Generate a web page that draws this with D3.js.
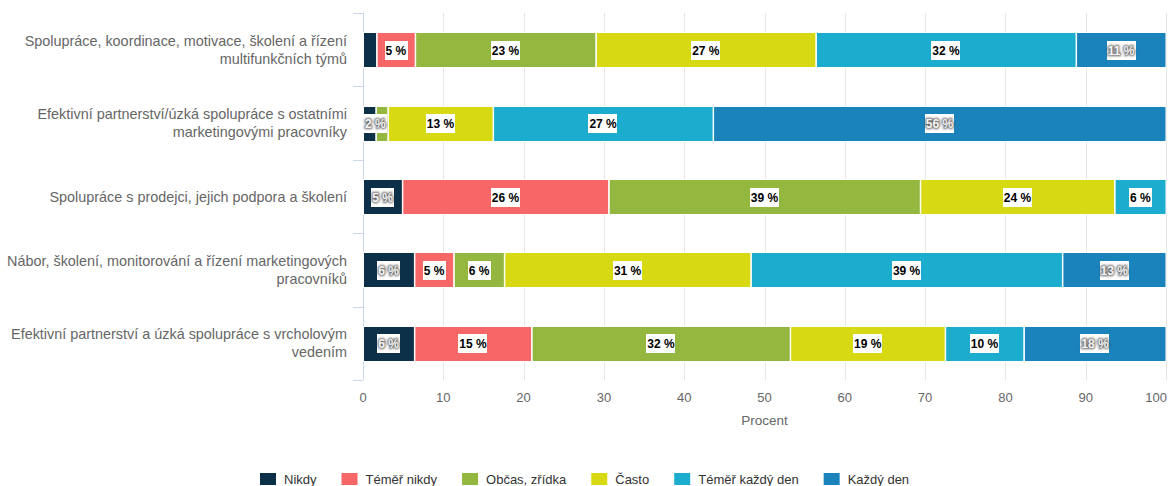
<!DOCTYPE html>
<html>
<head>
<meta charset="utf-8">
<script src="https://cdn.jsdelivr.net/npm/d3@7"></script>
<style>
  html, body { margin: 0; padding: 0; background: #fff; }
  svg { display: block; font-family: "Liberation Sans", Arial, sans-serif; }
</style>
</head>
<body>
<svg id="chart" width="1168" height="486"></svg>
<script>
const categories = [
  "Spolupráce, koordinace, motivace, školení a řízení\nmultifunkčních týmů",
  "Efektivní partnerství/úzká spolupráce s ostatními\nmarketingovými pracovníky",
  "Spolupráce s prodejci, jejich podpora a školení",
  "Nábor, školení, monitorování a řízení marketingových\npracovníků",
  "Efektivní partnerství a úzká spolupráce s vrcholovým\nvedením"
];
const seriesNames = ["Nikdy", "Téměř nikdy", "Občas, zřídka", "Často", "Téměř každý den", "Každý den"];
const seriesColors = ["#0d3049", "#f86767", "#94b740", "#d7d912", "#1cadce", "#1a83bb"];
const darkLabelSeries = [true, false, false, false, false, true];
const nikdy         = [1.7, 1.6, 4.9, 6.4, 6.4];
const temerNikdy    = [4.8, 0, 25.7, 4.9, 14.6];
const obcasZridka   = [22.5, 1.5, 38.8, 6.3, 32.2];
const casto         = [27.4, 13.1, 24.2, 30.7, 19.3];
const temerKazdyDen = [32.4, 27.4, 6.4, 38.8, 9.8];
const kazdyDen      = [11.2, 56.4, 0, 12.9, 17.7];
const xTicks = [0, 10, 20, 30, 40, 50, 60, 70, 80, 90, 100];
const xAxisTitle = "Procent";

const seriesValues = [nikdy, temerNikdy, obcasZridka, casto, temerKazdyDen, kazdyDen];

const svg = d3.select("#chart");
const W = 1168, H = 486;
const plot = { left: 363, right: 1166, top: 13, bottom: 380 };

const x = d3.scaleLinear().domain([0, 100]).range([plot.left, plot.right]);
const y = d3.scaleBand().domain(d3.range(categories.length)).range([plot.top, plot.bottom]).paddingInner(0).paddingOuter(0);
const barH = 35;

const defs = svg.append("defs");
const f = defs.append("filter").attr("id", "blurOut").attr("x", "-20%").attr("y", "-40%").attr("width", "140%").attr("height", "180%");
f.append("feGaussianBlur").attr("stdDeviation", 0.9);

// gridlines
svg.append("g").selectAll("line").data(xTicks.filter(t => t > 0)).join("line")
  .attr("x1", d => Math.round(x(d)) + 0.5).attr("x2", d => Math.round(x(d)) + 0.5)
  .attr("y1", plot.top).attr("y2", plot.bottom)
  .attr("stroke", "#e6e6e6").attr("stroke-width", 1);

// y axis line and ticks
svg.append("line").attr("x1", plot.left + 0.5).attr("x2", plot.left + 0.5)
  .attr("y1", plot.top).attr("y2", plot.bottom).attr("stroke", "#ccd6eb");
const boundaries = d3.range(categories.length + 1).map(i => plot.top + i * y.bandwidth());
svg.append("g").selectAll("line").data(boundaries).join("line")
  .attr("x1", plot.left - 10).attr("x2", plot.left)
  .attr("y1", d => Math.round(d) + 0.5).attr("y2", d => Math.round(d) + 0.5)
  .attr("stroke", "#ccd6eb");

// category labels
const catG = svg.append("g");
categories.forEach((c, i) => {
  const lines = c.split("\n");
  const cy = y(i) + y.bandwidth() / 2;
  const lh = 18;
  const t = catG.append("text").attr("text-anchor", "end").attr("font-size", 14.4).attr("fill", "#666");
  lines.forEach((ln, j) => {
    t.append("tspan").attr("x", 347)
      .attr("y", cy + (j - (lines.length - 1) / 2) * lh + 5)
      .text(ln);
  });
});

// stacked bars
const stackData = categories.map((c, i) => {
  let acc = 0;
  return seriesValues.map((vals, s) => {
    const v = vals[i];
    const seg = { cat: i, s, v, x0: acc, x1: acc + v };
    acc += v;
    return seg;
  });
});
const barsG = svg.append("g");
stackData.forEach((row, i) => {
  const by = Math.round(y(i) + y.bandwidth() / 2 - barH / 2) + 0.5;
  barsG.selectAll(null).data(row.filter(d => d.v > 0)).join("rect")
    .attr("x", d => x(d.x0) + 0.5)
    .attr("width", d => Math.max(0, x(d.x1) - x(d.x0) - 0.5))
    .attr("y", by)
    .attr("height", barH)
    .attr("fill", d => seriesColors[d.s])
    .attr("stroke", "#fff").attr("stroke-width", 1);
});

// data labels
const labG = svg.append("g");
const measure = svg.append("text").attr("font-size", 12).attr("font-weight", "bold").attr("visibility", "hidden");
stackData.forEach((row, i) => {
  const cy = y(i) + y.bandwidth() / 2 + 0.5;
  const cands = row.filter(d => d.v > 0).map(d => {
    const txt = Math.round(d.v) + " %";
    measure.text(txt);
    const tw = measure.node().getComputedTextLength();
    const bw = tw + 2;
    let cx = (x(d.x0) + x(d.x1)) / 2;
    let left = cx - bw / 2;
    if (left < plot.left + 1) left = plot.left + 1;
    if (left + bw > plot.right) left = plot.right - bw;
    return { d, txt, bw, left };
  });
  const order = cands.slice().sort((a, b) => b.d.v - a.d.v);
  const shown = [];
  order.forEach(c => {
    const ov = shown.some(o => c.left < o.left + o.bw && o.left < c.left + c.bw);
    if (!ov) shown.push(c);
  });
  shown.forEach(c => {
    const g = labG.append("g");
    g.append("rect").attr("x", Math.round(c.left)).attr("y", Math.round(cy - 9.5))
      .attr("width", Math.round(c.bw)).attr("height", 19).attr("fill", "#fff");
    const tx = c.left + c.bw / 2;
    if (darkLabelSeries[c.d.s]) {
      g.append("text").attr("x", tx).attr("y", cy + 4.5).attr("text-anchor", "middle")
        .attr("font-size", 12).attr("font-weight", "bold")
        .attr("fill", "#555").attr("stroke", "#444").attr("stroke-width", 2.2)
        .attr("filter", "url(#blurOut)").attr("opacity", 0.8).text(c.txt);
      g.append("text").attr("x", tx).attr("y", cy + 4.5).attr("text-anchor", "middle")
        .attr("font-size", 12).attr("font-weight", "bold")
        .attr("fill", "#f4f4f4").text(c.txt);
    } else {
      g.append("text").attr("x", tx).attr("y", cy + 4.5).attr("text-anchor", "middle")
        .attr("font-size", 12).attr("font-weight", "bold")
        .attr("fill", "#000").text(c.txt);
    }
  });
});
measure.remove();

// x axis tick labels
const xl = svg.append("g");
xTicks.forEach(t => {
  const tx = x(t);
  const el = xl.append("text").attr("y", 402).attr("font-size", 13).attr("fill", "#666").text(t);
  const w = el.node().getComputedTextLength();
  if (tx + w / 2 > W - 1) el.attr("x", W - 1).attr("text-anchor", "end");
  else el.attr("x", tx).attr("text-anchor", "middle");
});
svg.append("text").attr("x", x(50)).attr("y", 425).attr("text-anchor", "middle")
  .attr("font-size", 13.5).attr("fill", "#666").text(xAxisTitle);

// legend
const legendG = svg.append("g");
const legendMeasure = legendG.append("text").attr("font-size", 13).attr("visibility", "hidden");
const itemW = seriesNames.map(n => { legendMeasure.text(n); return legendMeasure.node().getComputedTextLength(); });
legendMeasure.remove();
const symW = 16, symGap = 8, itemGap = 25;
const totalW = d3.sum(itemW) + seriesNames.length * (symW + symGap) + (seriesNames.length - 1) * itemGap;
let lx = Math.round((W - totalW) / 2) + 1;
seriesNames.forEach((n, i) => {
  legendG.append("rect").attr("x", lx).attr("y", 473).attr("width", symW).attr("height", 12)
    .attr("fill", seriesColors[i]);
  legendG.append("text").attr("x", lx + symW + symGap).attr("y", 484)
    .attr("font-size", 13).attr("fill", "#333").text(n);
  lx += symW + symGap + itemW[i] + itemGap;
});
</script>
</body>
</html>
